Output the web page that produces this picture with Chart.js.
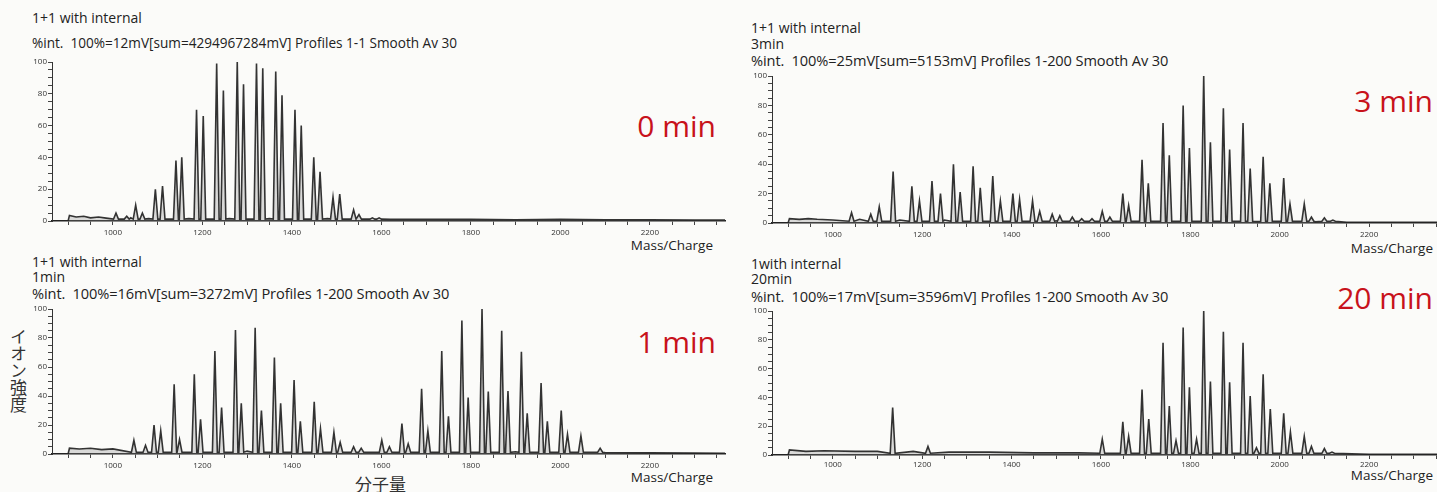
<!DOCTYPE html>
<html>
<head>
<meta charset="utf-8">
<script src="https://cdn.jsdelivr.net/npm/chart.js@4.4.1/dist/chart.umd.min.js"></script>
<style>
  body { margin:0; width:1437px; height:492px; overflow:hidden; position:relative;
         background:#fbfbf9; font-family:"Open Sans", sans-serif; color:#222; }
  .t { position:absolute; font-size:14px; line-height:16px; white-space:pre; }
  .t.w { font-size:14.6px; letter-spacing:-0.1px; }
  .mc { position:absolute; font-size:13.5px; line-height:16px; }
  .red { position:absolute; font-size:30px; line-height:34px; color:#c8121b; }
  .cjk { position:absolute; font-family:"Noto Sans CJK JP", sans-serif; font-size:17px; line-height:18px; color:#333; }
  canvas { position:absolute; }
</style>
</head>
<body>

<div class="t" style="left:32px;top:10px">1+1 with internal</div>
<div class="t" style="left:32px;top:35px;font-size:13.6px">%int.  100%=12mV[sum=4294967284mV] Profiles 1-1 Smooth Av 30</div>
<div class="red" style="right:721px;top:109px">0 min</div>
<div class="mc" style="right:724px;top:237px">Mass/Charge</div>

<div class="t" style="left:751px;top:20px">1+1 with internal</div>
<div class="t" style="left:751px;top:36px">3min</div>
<div class="t w" style="left:751px;top:52px">%int.  100%=25mV[sum=5153mV] Profiles 1-200 Smooth Av 30</div>
<div class="red" style="right:4px;top:84px">3 min</div>
<div class="mc" style="right:4px;top:240px">Mass/Charge</div>

<div class="t" style="left:32px;top:254px">1+1 with internal</div>
<div class="t" style="left:32px;top:269px">1min</div>
<div class="t w" style="left:32px;top:285px">%int.  100%=16mV[sum=3272mV] Profiles 1-200 Smooth Av 30</div>
<div class="red" style="right:721px;top:325px">1 min</div>
<div class="mc" style="right:724px;top:469px">Mass/Charge</div>
<div class="cjk" style="left:9px;top:328px;width:18px;writing-mode:vertical-rl">イオン強度</div>
<div class="cjk" style="left:355px;top:475px">分子量</div>

<div class="t" style="left:751px;top:256px">1with internal</div>
<div class="t" style="left:751px;top:271px">20min</div>
<div class="t w" style="left:751px;top:288px">%int.  100%=17mV[sum=3596mV] Profiles 1-200 Smooth Av 30</div>
<div class="red" style="right:4px;top:281px">20 min</div>
<div class="mc" style="right:4px;top:467px">Mass/Charge</div>

<canvas id="c0" width="732" height="192" style="left:0;top:50px"></canvas>
<canvas id="c1" width="717" height="178" style="left:720px;top:65px"></canvas>
<canvas id="c2" width="732" height="180" style="left:0;top:298px"></canvas>
<canvas id="c3" width="717" height="178" style="left:720px;top:300px"></canvas>

<script>
// peak m/z and % intensity
// 0 min
const mz0  = [1007, 1031, 1051, 1066, 1095, 1111, 1141, 1154, 1187, 1202, 1232, 1247, 1278, 1292,
              1321, 1335, 1364, 1378, 1407, 1421, 1449, 1463, 1492, 1507, 1538, 1550, 1580, 1595];
const int0 = [5, 3, 10, 5, 20, 22, 38, 40, 70, 66, 99, 82, 100, 86,
              99, 96, 94, 79, 70, 60, 40, 31, 15, 17, 7, 4, 2, 2];
const baseMz0  = [900, 903, 918, 935, 950, 968, 985, 1000, 1040, 1080, 1170, 1260, 1350, 1480, 1560, 1620, 1700, 1800, 1900, 2000, 2100, 2200, 2300, 2368];
const baseInt0 = [0, 3.5, 2.5, 3, 2, 2.5, 1.8, 1.5, 2, 1.5, 1.5, 1.5, 1.5, 1.5, 1.2, 1, 1, 1, 0.8, 1, 0.8, 0.8, 0.6, 0.6];

// 3 min
const mz1  = [1042, 1085, 1104, 1135, 1177, 1194, 1222, 1241, 1270, 1285, 1314, 1330, 1358, 1375,
              1403, 1418, 1447, 1463, 1491, 1508, 1536, 1557, 1580, 1603, 1620, 1649, 1662, 1692,
              1706, 1739, 1753, 1784, 1798, 1830, 1845, 1874, 1888, 1918, 1934, 1963, 1978, 2009,
              2023, 2055, 2071, 2100, 2119];
const int1 = [7, 6, 11, 35, 25, 15, 28.5, 20, 40, 21, 38.5, 24, 32, 15,
              20, 16, 15, 8, 6, 5, 4, 3, 3, 8, 4, 20, 12, 43,
              27, 68, 46, 80, 51, 100, 55, 78, 50, 68, 37, 45, 27, 30.5,
              13, 13, 4, 3.5, 2];
const baseMz1  = [900, 903, 925, 945, 965, 1000, 1060, 1150, 1250, 1400, 1500, 1600, 1700, 1800, 1950, 2080, 2150, 2250, 2352];
const baseInt1 = [0, 3, 2.5, 3, 2.5, 2, 2.5, 2, 2, 1.5, 1.5, 1.5, 1, 1, 1, 0.8, 0.5, 0.5, 0.5];

// 1 min
const mz2  = [1047, 1073, 1092, 1107, 1137, 1149, 1182, 1196, 1228, 1243, 1274, 1287, 1318, 1332,
              1361, 1375, 1405, 1419, 1450, 1464, 1494, 1508, 1538, 1555, 1601, 1618, 1646, 1660,
              1690, 1704, 1735, 1750, 1780, 1794, 1825, 1839, 1869, 1883, 1913, 1926, 1957, 1971,
              2002, 2016, 2046, 2089];
const int2 = [9.5, 6, 20, 16, 48, 10, 55, 24, 71, 32, 85.5, 35, 87, 30,
              66.5, 35, 51, 22.5, 36, 17.5, 15, 8, 5, 4, 9.5, 5, 21, 7,
              45, 16, 71, 26, 92, 39, 100, 43, 85, 43.5, 70.5, 28, 49, 22.5,
              30, 13.5, 12.5, 4];
const baseMz2  = [900, 903, 925, 950, 975, 1000, 1040, 1100, 1300, 1500, 1600, 1700, 1900, 2050, 2100, 2200, 2300, 2368];
const baseInt2 = [0, 4, 3.5, 4, 3, 3.5, 3, 2.5, 2, 2, 1.5, 1.5, 1.5, 1, 1, 0.8, 0.6, 0.5];

// 20 min
const mz3  = [1134, 1213, 1603, 1649, 1662, 1692, 1707, 1739, 1753, 1768, 1784, 1798, 1814, 1830,
              1845, 1874, 1888, 1918, 1934, 1948, 1963, 1979, 2009, 2024, 2055, 2071, 2100, 2117];
const int3 = [33, 6, 11, 23, 13, 45.5, 25, 78, 34, 10, 88.5, 47, 11, 100,
              51, 85.5, 50.5, 78, 41, 5, 56, 32, 29, 16, 13, 6, 4.5, 2];
const baseMz3  = [900, 903, 940, 980, 1050, 1100, 1180, 1260, 1350, 1450, 1550, 1600, 1700, 1850, 2050, 2120, 2200, 2352];
const baseInt3 = [0, 3.5, 2.5, 3, 2.5, 2.5, 2.5, 2, 2, 1.5, 1.5, 2, 1.5, 1.5, 1, 0.6, 0.5, 0.5];

const yTicks = [0, 20, 40, 60, 80, 100];
const xTicks = [1000, 1200, 1400, 1600, 1800, 2000, 2200];

// turn peak list + baseline into one trace (each peak is a narrow spike)
function trace(mz, inten, bMz, bInt) {
  const half = 5.5, foot = 1.2;
  const pts = [];
  mz.forEach((m, i) => {
    pts.push({x: m - half, y: foot}, {x: m, y: inten[i]}, {x: m + half, y: foot});
  });
  bMz.forEach((m, i) => {
    if (!mz.some(p => Math.abs(p - m) < half + 2)) pts.push({x: m, y: bInt[i]});
  });
  return pts.sort((a, b) => a.x - b.x);
}

const tickFont = {family: 'Open Sans', size: 8};

function spectrum(id, pts, g) {
  new Chart(document.getElementById(id), {
    type: 'line',
    data: { datasets: [{
      data: pts, borderColor: 'rgba(35,35,35,0.92)', borderWidth: 1.6,
      backgroundColor: 'rgba(140,140,140,0.3)', fill: 'origin',
      pointRadius: 0, tension: 0
    }]},
    options: {
      responsive: false, animation: false,
      layout: { padding: { left: 0, top: g.top, right: g.right, bottom: 0 } },
      plugins: { legend: { display: false }, tooltip: { enabled: false } },
      scales: {
        x: {
          type: 'linear', min: 864, max: g.xMax,
          ticks: { stepSize: 50, autoSkip: false, maxRotation: 0, includeBounds: false, padding: g.lp,
                   color: '#333', font: tickFont,
                   callback: v => xTicks.includes(v) ? String(v) : '' },
          grid: { drawOnChartArea: false, drawTicks: true, tickLength: 4, tickColor: '#444' },
          border: { color: '#222', width: 1.6 },
          afterFit(s) { s.height = g.xH; s.paddingLeft = 0; s.paddingRight = 0; }
        },
        y: {
          min: 0, max: 100,
          ticks: { stepSize: 5, autoSkip: false, padding: 1, color: '#333', font: tickFont,
                   callback: v => yTicks.includes(v) ? String(v) : '' },
          grid: { drawOnChartArea: false, drawTicks: true, tickLength: 4, tickColor: '#444' },
          border: { color: '#333', width: 1 },
          afterFit(s) { s.width = g.yW; s.paddingTop = 0; s.paddingBottom = 0; }
        }
      }
    }
  });
}

spectrum('c0', trace(mz0, int0, baseMz0, baseInt0), {top: 12, right: 7, xH: 21, yW: 52, xMax: 2368, lp: 3});
spectrum('c1', trace(mz1, int1, baseMz1, baseInt1), {top: 11, right: 0, xH: 20, yW: 52, xMax: 2352, lp: 3});
spectrum('c2', trace(mz2, int2, baseMz2, baseInt2), {top: 11, right: 7, xH: 24, yW: 52, xMax: 2368, lp: 3});
spectrum('c3', trace(mz3, int3, baseMz3, baseInt3), {top: 11, right: 0, xH: 23, yW: 52, xMax: 2352, lp: 1});
</script>
</body>
</html>
